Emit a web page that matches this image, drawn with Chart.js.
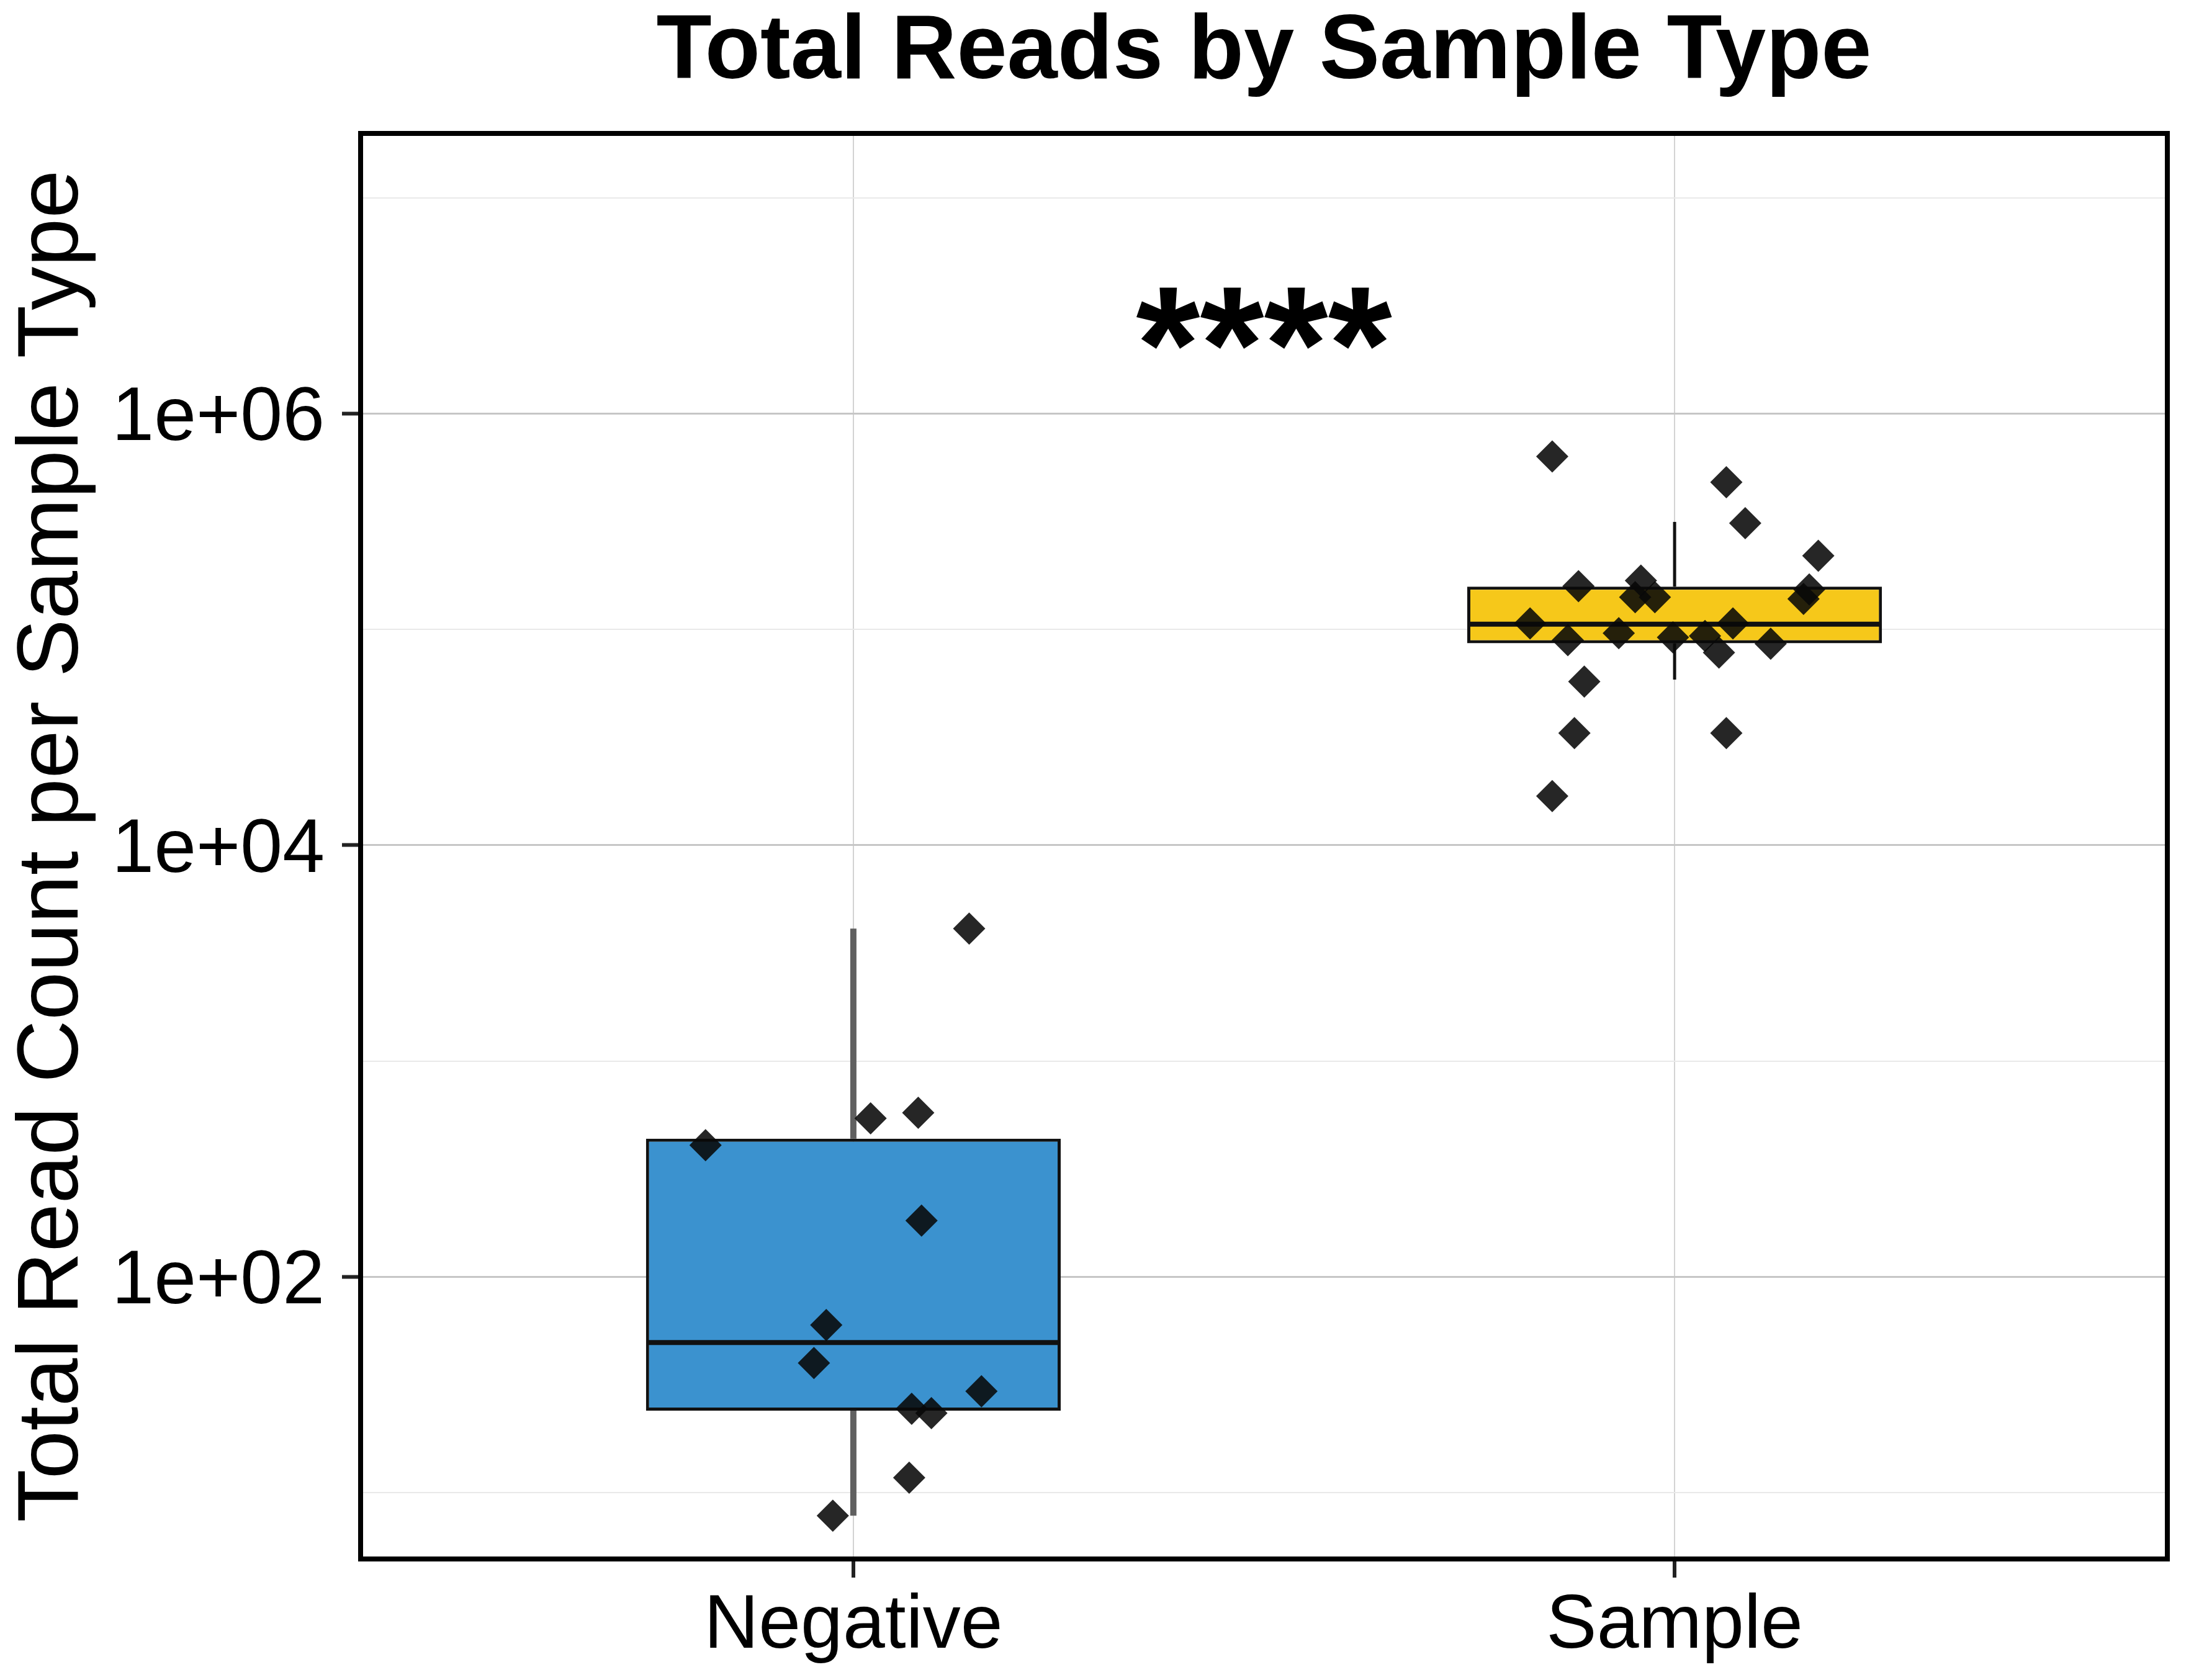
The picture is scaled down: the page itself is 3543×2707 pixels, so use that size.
<!DOCTYPE html>
<html><head><meta charset="utf-8">
<script src="https://cdn.jsdelivr.net/npm/chart.js@4.4.1/dist/chart.umd.min.js"></script>
<style>html,body{margin:0;padding:0;background:#fff;}canvas{display:block;}</style>
</head><body>
<canvas id="c" width="3543" height="2707" style="width:3543px;height:2707px"></canvas>
<script>
// ---- data ----
const CATEGORIES = ['Negative', 'Sample'];
const Q1 = [23.9, 86300];
const MEDIAN = [49.5, 105900];
const Q3 = [436, 158100];
const WHISKER_LOW = [7.8, 58600];
const WHISKER_HIGH = [4110, 315500];
const NEG_VALUES = [4110, 542, 575, 407, 182, 59.7, 39.8, 29.4, 24.4, 23.3, 11.7, 7.8];
const NEG_JITTER = [0.141, 0.021, 0.079, -0.180, 0.083, -0.033, -0.048, 0.156, 0.071, 0.095, 0.068, -0.025];
const SAMPLE_VALUES = [633900, 482000, 311000, 219800, 158900, 168700, 141300, 141300, 153500, 138700, 106700, 106700, 89300, 96200, 92000, 93300, 78200, 85900, 57400, 33100, 33100, 16900];
const SAMPLE_JITTER = [-0.149, 0.063, 0.086, 0.175, -0.117, -0.041, -0.048, -0.024, 0.164, 0.157, -0.176, 0.071, -0.130, -0.068, -0.002, 0.037, 0.054, 0.117, -0.110, -0.122, 0.063, -0.149];
const Y_MAJOR_TICKS = [1e2, 1e4, 1e6];
const Y_MAJOR_LABELS = ['1e+02', '1e+04', '1e+06'];
const Y_MINOR_TICKS = [1e1, 1e3, 1e5, 1e7];
const Y_MIN = 4.91, Y_MAX = 1.995e7;
const SIGNIF_LABEL = '****';
const SIGNIF_X = 1.5;
const SIGNIF_Y = 2.49e6;

// ---- styles ----
const FONT = 'Liberation Sans, Arial, sans-serif';
const BOX_COLORS = ['#3B92CF', '#F6C81A'];
const WHISKER_COLORS = ['#606060', '#111111'];
const WHISKER_WIDTHS = [10, 5];
const BOX_HALF = 0.25;

const datasets = [];
datasets.push({
  type: 'bar',
  data: CATEGORIES.map((c, i) => ({x: i + 1, y: [Q1[i], Q3[i]]})),
  backgroundColor: BOX_COLORS,
  borderColor: '#111111',
  borderWidth: 5,
  borderSkipped: false,
  categoryPercentage: 1,
  barPercentage: 0.505,
  order: 2
});
CATEGORIES.forEach((c, i) => {
  const line = (pts, color, w, order) => ({
    type: 'line', data: pts, borderColor: color, borderWidth: w,
    pointRadius: 0, fill: false, tension: 0, borderCapStyle: 'butt', order
  });
  datasets.push(line([{x: i + 1, y: WHISKER_LOW[i]}, {x: i + 1, y: Q1[i]}], WHISKER_COLORS[i], WHISKER_WIDTHS[i], 3));
  datasets.push(line([{x: i + 1, y: Q3[i]}, {x: i + 1, y: WHISKER_HIGH[i]}], WHISKER_COLORS[i], WHISKER_WIDTHS[i], 3));
  datasets.push(line([{x: i + 1 - BOX_HALF, y: MEDIAN[i]}, {x: i + 1 + BOX_HALF, y: MEDIAN[i]}], '#111111', 8, 1));
});
const pointSet = (vals, jit, cat) => ({
  type: 'scatter',
  data: vals.map((v, k) => ({x: cat + jit[k], y: v})),
  pointStyle: 'rectRot', pointRadius: 26, pointHoverRadius: 26,
  backgroundColor: 'rgba(8,8,8,0.88)', borderWidth: 0, order: 0
});
datasets.push(pointSet(NEG_VALUES, NEG_JITTER, 1));
datasets.push(pointSet(SAMPLE_VALUES, SAMPLE_JITTER, 2));

const isMajor = v => Y_MAJOR_TICKS.includes(v);

const framePlugin = {
  id: 'frame',
  afterDraw(chart) {
    const {ctx, chartArea: a} = chart;
    ctx.save();
    ctx.strokeStyle = '#000';
    ctx.lineWidth = 8;
    ctx.strokeRect(a.left, a.top, a.right - a.left, a.bottom - a.top);
    ctx.restore();
  }
};
const signifPlugin = {
  id: 'signif',
  afterDatasetsDraw(chart) {
    const {ctx, scales} = chart;
    const size = 265;
    ctx.save();
    ctx.font = 'bold ' + size + 'px ' + FONT;
    ctx.fillStyle = '#000';
    ctx.textAlign = 'center';
    ctx.textBaseline = 'alphabetic';
    ctx.fillText(SIGNIF_LABEL, scales.x.getPixelForValue(SIGNIF_X), scales.y.getPixelForValue(SIGNIF_Y) + 0.44 * size);
    ctx.restore();
  }
};

new Chart(document.getElementById('c'), {
  type: 'bar',
  data: {datasets},
  plugins: [framePlugin, signifPlugin],
  options: {
    responsive: false,
    devicePixelRatio: 1,
    animation: false,
    events: [],
    layout: {padding: {left: 0, right: 51, top: 0, bottom: 0}},
    plugins: {
      legend: {display: false},
      tooltip: {enabled: false},
      title: {
        display: true, text: 'Total Reads by Sample Type', fullSize: false,
        color: '#000',
        font: {family: FONT, size: 146, weight: 'bold', lineHeight: 1},
        padding: {top: 13, bottom: 56}
      }
    },
    scales: {
      x: {
        type: 'linear', min: 0.4, max: 2.6, offset: false,
        afterBuildTicks: s => { s.ticks = CATEGORIES.map((c, i) => ({value: i + 1})); },
        afterFit: s => { s.height = 195; },
        ticks: {
          callback: v => CATEGORIES[Math.round(v) - 1] || '',
          font: {family: FONT, size: 122, lineHeight: 1.2}, color: '#000',
          padding: 6, autoSkip: false, maxRotation: 0
        },
        grid: {offset: false, color: '#d3d3d3', lineWidth: 2, tickLength: 30, tickColor: '#222', tickWidth: 6},
        border: {display: false}
      },
      y: {
        type: 'logarithmic', min: Y_MIN, max: Y_MAX,
        afterBuildTicks: s => {
          s.ticks = [...Y_MINOR_TICKS, ...Y_MAJOR_TICKS].sort((a, b) => a - b).map(v => ({value: v}));
        },
        afterFit: s => { s.width = 581; },
        ticks: {
          callback: v => { const k = Y_MAJOR_TICKS.indexOf(v); return k >= 0 ? Y_MAJOR_LABELS[k] : ''; },
          font: {family: FONT, size: 122}, color: '#000', padding: 28, autoSkip: false,
          labelOffset: 9
        },
        grid: {
          color: c => isMajor(c.tick.value) ? '#c6c6c6' : '#e9e9e9',
          lineWidth: c => isMajor(c.tick.value) ? 3 : 2,
          tickLength: 30,
          tickColor: c => isMajor(c.tick.value) ? '#222' : 'rgba(0,0,0,0)',
          tickWidth: 6
        },
        border: {display: false},
        title: {
          display: true, text: 'Total Read Count per Sample Type', color: '#000',
          font: {family: FONT, size: 140, lineHeight: 1},
          padding: {top: 16, bottom: 0}
        }
      }
    }
  }
});
</script>
</body></html>
